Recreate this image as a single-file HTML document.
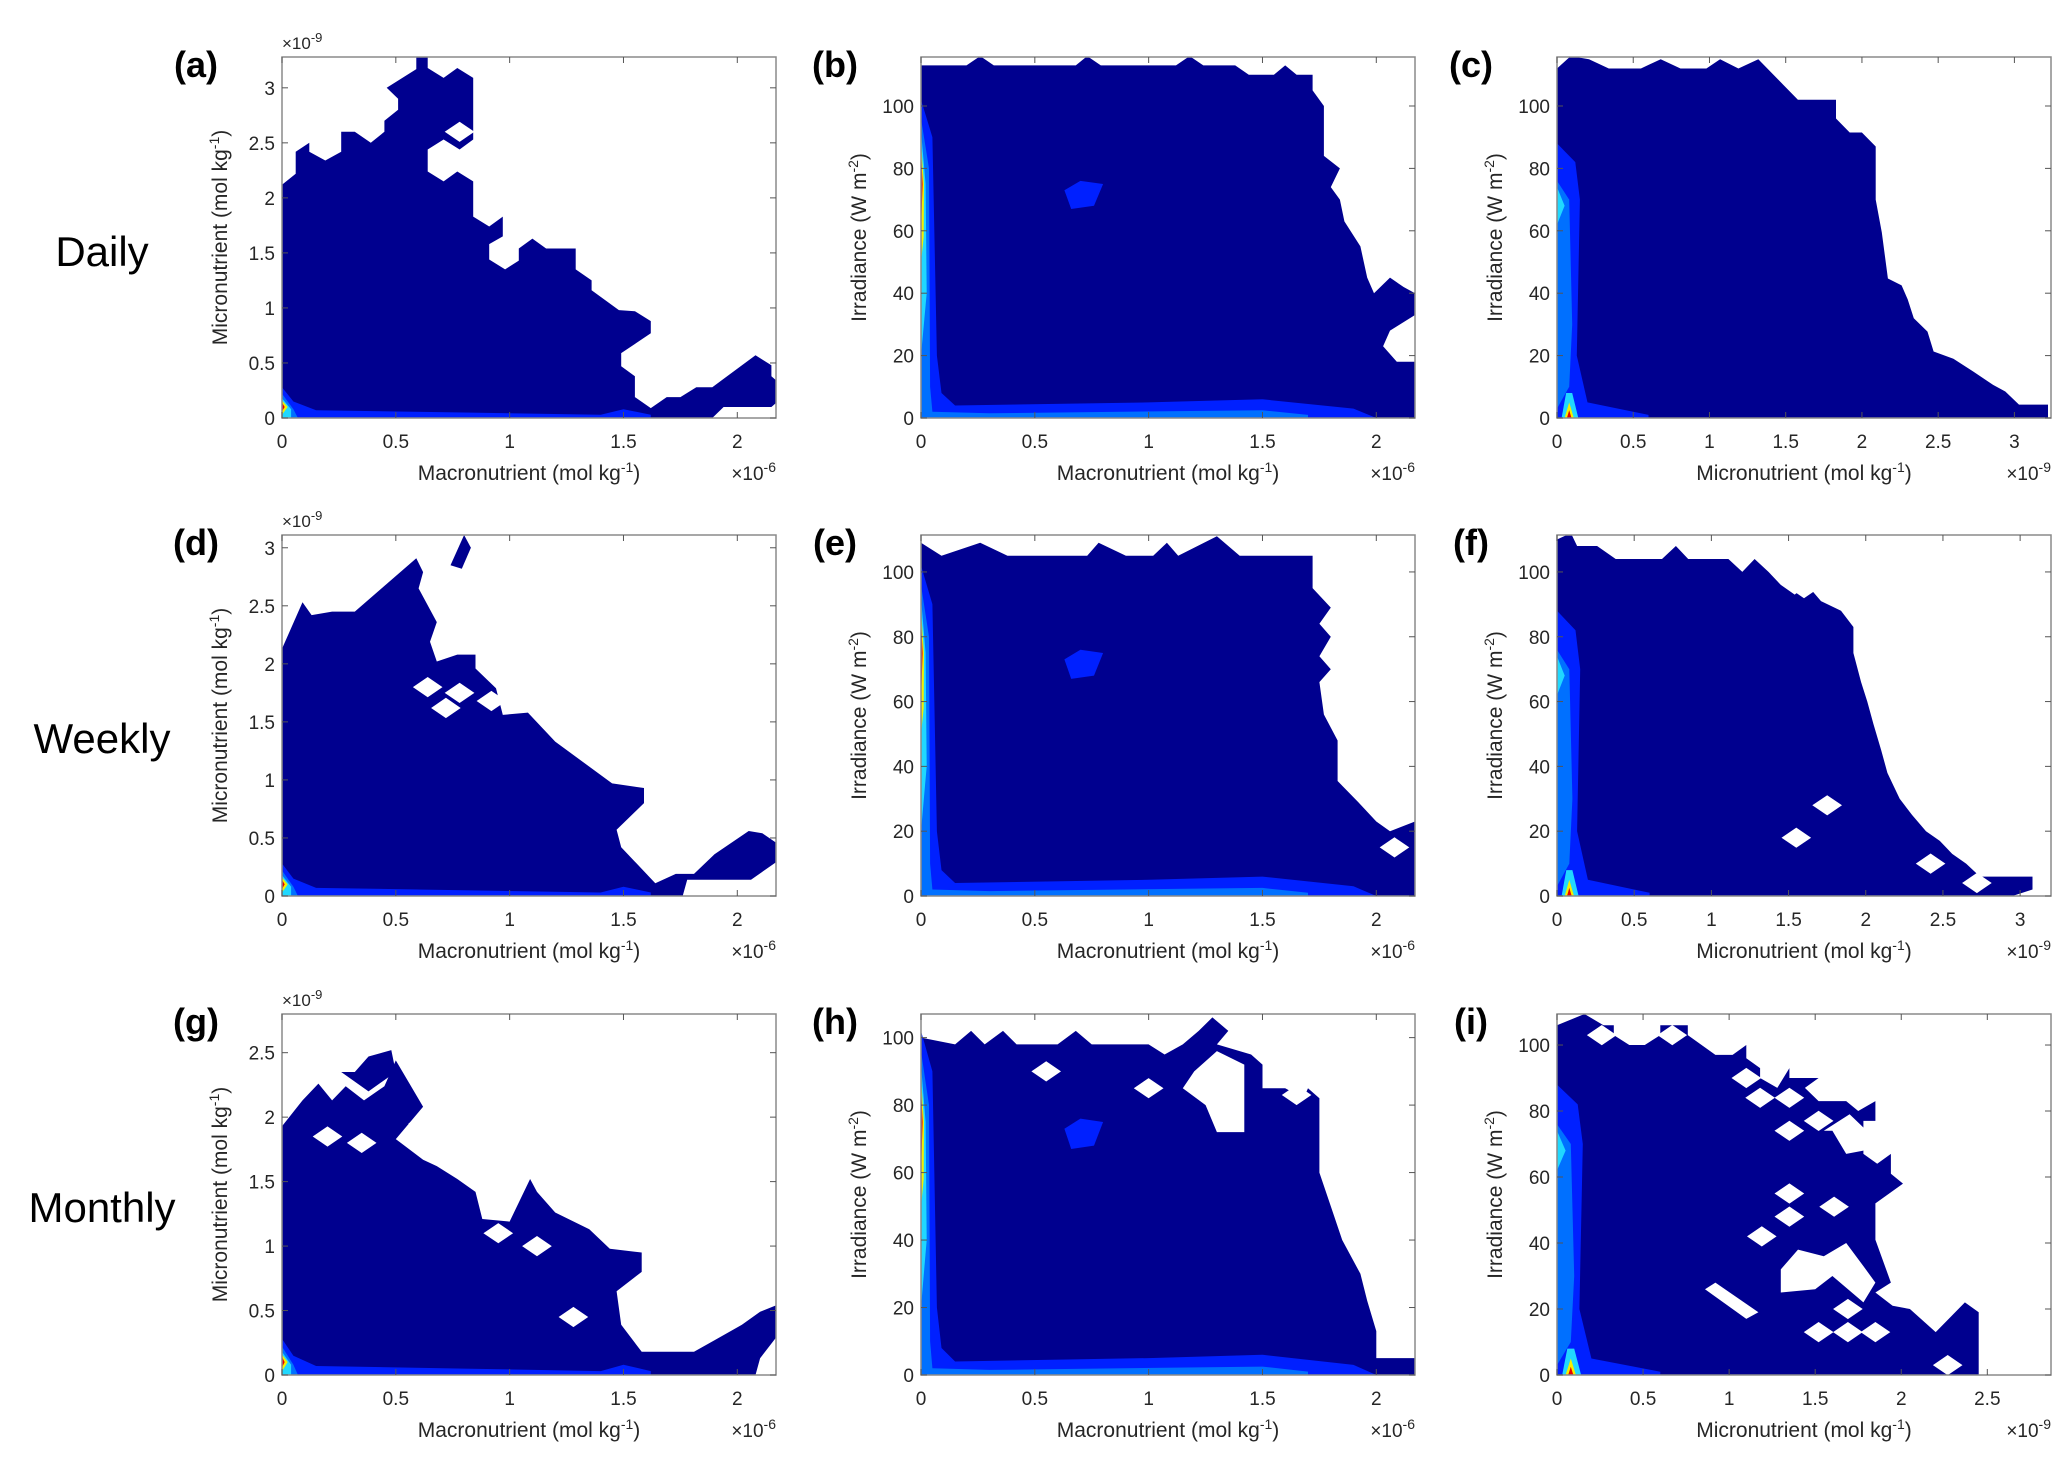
<!DOCTYPE html>
<html><head><meta charset="utf-8">
<style>
html,body{margin:0;padding:0;background:#fff;}
svg{display:block;font-family:"Liberation Sans",sans-serif;}
</style></head>
<body>
<svg id="fig" width="2067" height="1457" viewBox="0 0 2067 1457" xmlns="http://www.w3.org/2000/svg">
<rect width="2067" height="1457" fill="#fff"/>
<text x="102" y="266" font-size="42" text-anchor="middle">Daily</text>
<text x="102" y="753" font-size="42" text-anchor="middle">Weekly</text>
<text x="102" y="1222" font-size="42" text-anchor="middle">Monthly</text>
</svg>
<script>
// ---------- data (in axis units: x ×1e-6 or ×1e-9, y ×1e-9 or W m^-2) ----------
const outlineA = [[0,0],[0,2.12],[0.06,2.22],[0.06,2.42],[0.12,2.5],[0.12,2.42],[0.19,2.34],[0.26,2.42],[0.26,2.6],[0.32,2.6],[0.39,2.5],[0.45,2.6],[0.45,2.7],[0.51,2.8],[0.51,2.9],[0.46,3.0],[0.59,3.17],[0.59,3.3],[0.64,3.3],[0.64,3.18],[0.71,3.09],[0.77,3.18],[0.84,3.09],[0.84,2.53],[0.78,2.44],[0.71,2.53],[0.64,2.44],[0.64,2.24],[0.71,2.15],[0.77,2.24],[0.84,2.15],[0.84,1.83],[0.91,1.74],[0.97,1.83],[0.97,1.65],[0.91,1.58],[0.91,1.44],[0.98,1.35],[1.04,1.43],[1.04,1.54],[1.1,1.63],[1.16,1.54],[1.29,1.54],[1.29,1.35],[1.36,1.25],[1.36,1.16],[1.48,0.98],[1.55,0.97],[1.62,0.88],[1.62,0.77],[1.49,0.59],[1.49,0.47],[1.55,0.38],[1.55,0.19],[1.62,0.09],[1.69,0.19],[1.75,0.19],[1.82,0.28],[1.89,0.28],[2.08,0.57],[2.15,0.48],[2.15,0.38],[2.2,0.29],[2.2,0.19],[2.15,0.1],[1.94,0.1],[1.89,0]];
const holesA = [[0.78,2.6]];
const outlineB = [[0,0],[0,113],[0.2,113],[0.26,116],[0.32,113],[0.68,113],[0.73,116],[0.79,113],[1.12,113],[1.18,116],[1.24,113],[1.38,113],[1.44,110],[1.55,110],[1.6,113],[1.65,110],[1.72,110],[1.72,105],[1.77,100],[1.77,84],[1.84,80],[1.8,74],[1.84,70],[1.86,63],[1.93,55],[1.96,45],[1.99,40],[2.06,45],[2.12,42],[2.17,40],[2.17,33],[2.06,28],[2.03,23],[2.09,18],[2.17,18],[2.17,0]];
const holesB = [];
const outlineC = [[0,0],[0,112],[0.09,116],[0.21,115],[0.34,112],[0.55,112],[0.68,115],[0.81,112],[0.98,112],[1.07,115],[1.19,112],[1.32,115],[1.45,108.5],[1.58,102],[1.83,102],[1.83,96],[1.92,91.5],[2.0,91.5],[2.09,87],[2.09,70],[2.13,59.5],[2.17,44.7],[2.26,42.5],[2.3,38],[2.34,32],[2.43,27.7],[2.47,21.3],[2.6,19],[2.73,14.9],[2.86,10.6],[2.94,8.5],[3.03,4.3],[3.22,4.3],[3.22,0]];
const holesC = [];
const outlineD = [[0,0],[0,2.13],[0.09,2.53],[0.13,2.42],[0.22,2.45],[0.32,2.45],[0.59,2.91],[0.62,2.79],[0.6,2.65],[0.68,2.36],[0.65,2.19],[0.68,2.02],[0.77,2.08],[0.85,2.08],[0.85,1.96],[0.94,1.79],[0.97,1.56],[1.08,1.58],[1.2,1.33],[1.45,0.97],[1.59,0.93],[1.59,0.8],[1.47,0.57],[1.49,0.42],[1.64,0.11],[1.73,0.19],[1.81,0.19],[1.9,0.36],[2.05,0.56],[2.11,0.54],[2.17,0.46],[2.17,0.29],[2.06,0.14],[1.78,0.14],[1.76,0]];
const extraD = [[0.74,2.85],[0.8,3.11],[0.83,3.0],[0.79,2.82]];
const holesD = [[0.64,1.8],[0.78,1.75],[0.72,1.62],[0.92,1.68]];
const outlineE = [[0,0],[0,109],[0.09,105],[0.26,109],[0.38,105],[0.73,105],[0.78,109],[0.9,105],[1.02,105],[1.08,109],[1.13,105],[1.3,111],[1.4,105],[1.72,105],[1.72,95],[1.8,89],[1.75,84],[1.8,80],[1.75,74],[1.8,70],[1.75,66],[1.77,56],[1.83,48],[1.83,35.5],[1.92,29],[2.0,23],[2.06,20],[2.17,23],[2.17,0]];
const holesE = [[2.08,15]];
const outlineF = [[0,0],[0,110],[0.09,112],[0.13,108],[0.26,108],[0.38,104],[0.68,104],[0.77,108],[0.85,104],[1.11,104],[1.2,100],[1.28,104],[1.37,100],[1.45,96],[1.54,93],[1.62,96],[1.71,91],[1.84,88],[1.92,83],[1.92,75],[1.97,66],[2.01,60],[2.05,53],[2.1,45],[2.14,38],[2.18,34],[2.22,30],[2.3,25],[2.39,20],[2.48,17],[2.56,13],[2.65,10],[2.74,6],[3.08,6],[3.08,2],[2.95,0]];
const holesF = [[1.6,95],[1.75,28],[1.55,18],[2.42,10],[2.72,4]];
const outlineG = [[0,0],[0,1.93],[0.09,2.13],[0.16,2.26],[0.22,2.13],[0.28,2.24],[0.36,2.13],[0.45,2.24],[0.5,2.44],[0.56,2.26],[0.62,2.08],[0.5,1.83],[0.62,1.67],[0.68,1.62],[0.77,1.52],[0.85,1.42],[0.88,1.21],[1.0,1.19],[1.09,1.52],[1.12,1.42],[1.2,1.26],[1.35,1.13],[1.44,0.98],[1.58,0.95],[1.58,0.8],[1.47,0.65],[1.49,0.39],[1.58,0.18],[1.81,0.18],[1.9,0.27],[2.02,0.39],[2.1,0.49],[2.17,0.54],[2.17,0.29],[2.1,0.13],[2.08,0]];
const extraG = [[0.26,2.35],[0.32,2.35],[0.38,2.47],[0.48,2.52],[0.5,2.35],[0.38,2.2]];
const holesG = [[0.62,1.95],[1.12,1.0],[1.28,0.45],[0.2,1.85],[0.35,1.8],[0.95,1.1]];
const outlineH = [[0,0],[0,100],[0.15,98],[0.22,102],[0.28,98],[0.36,102],[0.42,98],[0.6,98],[0.68,102],[0.75,98],[1.0,98],[1.07,95],[1.15,98],[1.22,102],[1.28,106],[1.35,102],[1.3,98],[1.45,95],[1.5,92],[1.5,85],[1.6,85],[1.68,82],[1.7,85],[1.75,82],[1.75,60],[1.8,50],[1.85,40],[1.93,30],[1.96,22],[2.0,13],[2.0,5],[2.17,5],[2.17,0]];
const whiteH = [[1.2,90],[1.3,96],[1.42,92],[1.42,72],[1.3,72],[1.25,80],[1.15,85]];
const holesH = [[0.55,90],[1.0,85],[1.65,83]];
const outlineI = [[0,0],[0,106],[0.16,109.4],[0.27,106],[0.33,106],[0.33,103],[0.42,100],[0.51,100],[0.6,103],[0.6,106],[0.76,106],[0.76,103],[0.92,97],[1.02,97],[1.1,100],[1.1,96],[1.18,93],[1.18,90],[1.28,87],[1.35,93],[1.35,90],[1.52,90],[1.44,87],[1.52,83],[1.68,83],[1.75,80],[1.85,83],[1.85,77],[1.78,77],[1.78,67],[1.86,64],[1.94,67],[1.94,61],[2.01,58],[1.85,52],[1.85,41],[1.94,28],[1.85,25],[1.95,21],[2.05,20],[2.2,13],[2.37,22],[2.45,19],[2.45,0]];
const whiteI = [[[1.55,74],[1.7,79],[1.8,74],[1.78,68],[1.68,67],[1.6,74]],[[1.4,38],[1.55,36],[1.68,40],[1.78,33],[1.85,28],[1.78,22],[1.6,30],[1.5,26],[1.3,25],[1.3,32]],[[0.86,26],[0.92,28],[1.17,19],[1.1,17]]];
const holesI = [[0.26,103],[0.67,103],[1.1,90],[1.18,84],[1.35,84],[1.35,74],[1.52,77],[1.35,55],[1.35,48],[1.61,51],[1.19,42],[1.69,13],[1.52,13],[1.69,20],[1.85,13],[2.27,3],[2.1,28],[2.05,42]];

// colour-level layers near the origin (level index 1..5)
const layersNut = [
 [1,[[0,0],[0,0.28],[0.05,0.15],[0.15,0.07],[0.8,0.05],[1.4,0.03],[1.5,0.08],[1.62,0.03],[1.62,0]]],
 [2,[[0,0],[0,0.22],[0.05,0.08],[0.07,0]]],
 [3,[[0,0],[0,0.18],[0.04,0.08],[0.04,0]]],
 [4,[[0,0.03],[0,0.16],[0.025,0.1]]],
 [5,[[0,0.06],[0,0.14],[0.012,0.1]]]
];
const layersIrrMac = [
 [1,[[0,0],[0,102],[0.05,90],[0.07,20],[0.09,8],[0.15,4],[1.0,5],[1.5,6],[1.9,3],[2.0,0]]],
 [1,[[0.63,73],[0.7,76],[0.8,75],[0.76,68],[0.66,67]]],
 [2,[[0,0],[0,96],[0.035,80],[0.04,10],[0.05,2],[0.3,1.5],[1.5,2.5],[1.7,1],[1.7,0]]],
 [3,[[0,20],[0,92],[0.02,75],[0.025,40]]],
 [4,[[0,50],[0,88],[0.013,75],[0.012,58]]],
 [5,[[0,60],[0,86],[0.007,75]]]
];
const layersIrrMic = [
 [1,[[0,0],[0,88],[0.12,82],[0.15,70],[0.13,20],[0.2,5],[0.6,1],[0.6,0]]],
 [2,[[0,3],[0,76],[0.08,70],[0.1,30],[0.08,10]]],
 [3,[[0,62],[0.05,68],[0,74]]],
 [3,[[0.03,0],[0.06,8],[0.1,8],[0.14,0]]],
 [4,[[0.05,0],[0.08,5],[0.11,0]]],
 [5,[[0.065,0],[0.08,2.5],[0.095,0]]]
];

// ---------- styles ----------
const NAVY = '#00008f';
const LEVEL_COLORS = ['#00008f','#0020ff','#0070ff','#20d8ff','#f4f000','#e80000'];
const COLS = [282, 921, 1557];
const ROWS = [57, 535, 1014];
const W = 494, H = 361;
const MAC = 'Macronutrient (mol kg', MIC = 'Micronutrient (mol kg';

const panels = [
 {id:'a',c:0,r:0,xmax:2.17,ymax:3.28,xt:[0,0.5,1,1.5,2],yt:[0,0.5,1,1.5,2,2.5,3],xl:MAC,yl:'nut',xe:'-6',ye:'-9',out:outlineA,holes:holesA,extra:[],white:[],layers:layersNut},
 {id:'b',c:1,r:0,xmax:2.17,ymax:115.7,xt:[0,0.5,1,1.5,2],yt:[0,20,40,60,80,100],xl:MAC,yl:'irr',xe:'-6',out:outlineB,holes:holesB,extra:[],white:[],layers:layersIrrMac},
 {id:'c',c:2,r:0,xmax:3.24,ymax:115.7,xt:[0,0.5,1,1.5,2,2.5,3],yt:[0,20,40,60,80,100],xl:MIC,yl:'irr',xe:'-9',out:outlineC,holes:holesC,extra:[],white:[],layers:layersIrrMic},
 {id:'d',c:0,r:1,xmax:2.17,ymax:3.11,xt:[0,0.5,1,1.5,2],yt:[0,0.5,1,1.5,2,2.5,3],xl:MAC,yl:'nut',xe:'-6',ye:'-9',out:outlineD,holes:holesD,extra:[extraD],white:[],layers:layersNut},
 {id:'e',c:1,r:1,xmax:2.17,ymax:111.4,xt:[0,0.5,1,1.5,2],yt:[0,20,40,60,80,100],xl:MAC,yl:'irr',xe:'-6',out:outlineE,holes:holesE,extra:[],white:[],layers:layersIrrMac},
 {id:'f',c:2,r:1,xmax:3.2,ymax:111.4,xt:[0,0.5,1,1.5,2,2.5,3],yt:[0,20,40,60,80,100],xl:MIC,yl:'irr',xe:'-9',out:outlineF,holes:holesF,extra:[],white:[],layers:layersIrrMic},
 {id:'g',c:0,r:2,xmax:2.17,ymax:2.8,xt:[0,0.5,1,1.5,2],yt:[0,0.5,1,1.5,2,2.5],xl:MAC,yl:'nut',xe:'-6',ye:'-9',out:outlineG,holes:holesG,extra:[extraG],white:[],layers:layersNut},
 {id:'h',c:1,r:2,xmax:2.17,ymax:107,xt:[0,0.5,1,1.5,2],yt:[0,20,40,60,80,100],xl:MAC,yl:'irr',xe:'-6',out:outlineH,holes:holesH,extra:[],white:[whiteH],layers:layersIrrMac},
 {id:'i',c:2,r:2,xmax:2.87,ymax:109.4,xt:[0,0.5,1,1.5,2,2.5],yt:[0,20,40,60,80,100],xl:MIC,yl:'irr',xe:'-9',out:outlineI,holes:holesI,extra:[],white:whiteI,layers:layersIrrMic}
];

const NS = 'http://www.w3.org/2000/svg';
const svg = document.getElementById('fig');
function mk(tag, attrs, parent){const e=document.createElementNS(NS,tag);for(const k in attrs)e.setAttribute(k,attrs[k]);(parent||svg).appendChild(e);return e;}

panels.forEach(p=>{
  const L=COLS[p.c], T=ROWS[p.r];
  const sx=v=>L+v/p.xmax*W, sy=v=>T+H-v/p.ymax*H;
  const pts=arr=>arr.map(q=>sx(q[0]).toFixed(1)+','+sy(q[1]).toFixed(1)).join(' ');
  const g=mk('g',{});
  
  
  const clip=mk('clipPath',{id:'clip-'+p.id},g);
  mk('rect',{x:L,y:T,width:W,height:H},clip);
  const plot=mk('g',{'clip-path':'url(#clip-'+p.id+')'},g);
  const fillEl=mk('polygon',{points:pts(p.out),fill:NAVY},plot);
  
  
  p.extra.forEach(e=>{const el=mk('polygon',{points:pts(e),fill:NAVY},plot);
    
    });
  p.layers.forEach(ly=>{const el=mk('polygon',{points:pts(ly[1]),fill:LEVEL_COLORS[ly[0]]},plot);
    
    });
  p.white.forEach(w=>{const el=mk('polygon',{points:pts(w),fill:'#fff'},plot);
    
    });
  const dx=p.xmax*0.03, dy=p.ymax*0.028;
  p.holes.forEach(h=>{const el=mk('polygon',{points:pts([[h[0]-dx,h[1]],[h[0],h[1]+dy],[h[0]+dx,h[1]],[h[0],h[1]-dy]]),fill:'#fff'},plot);
    
    });
  const box=mk('rect',{x:L,y:T,width:W,height:H,fill:'none',stroke:'#8a8a8a','stroke-width':1.5},g);
  
  
  p.xt.forEach(v=>{const x=sx(v);
    mk('line',{x1:x,y1:T+H,x2:x,y2:T+H-6,stroke:'#555'},g);
    mk('line',{x1:x,y1:T,x2:x,y2:T+6,stroke:'#555'},g);
    const t=mk('text',{x:x,y:T+H+30,'font-size':19,'text-anchor':'middle',fill:'#262626'},g);
    t.textContent=String(v);
    
    });
  p.yt.forEach(v=>{const y=sy(v);
    mk('line',{x1:L,y1:y,x2:L+6,y2:y,stroke:'#555'},g);
    mk('line',{x1:L+W,y1:y,x2:L+W-6,y2:y,stroke:'#555'},g);
    const t=mk('text',{x:L-7,y:y+7,'font-size':19,'text-anchor':'end',fill:'#262626'},g);
    t.textContent=String(v);
    
    });
  const xl=mk('text',{x:L+W/2,y:T+H+62,'font-size':21,'text-anchor':'middle',fill:'#262626'},g);
  
  
  xl.appendChild(document.createTextNode(p.xl));
  const s1=mk('tspan',{'baseline-shift':'super','font-size':14},xl); s1.textContent='-1';
  xl.appendChild(document.createTextNode(')'));
  const xe=mk('text',{x:L+W,y:T+H+62,'font-size':19,'text-anchor':'end',fill:'#262626'},g);
  
  
  xe.appendChild(document.createTextNode('×10'));
  const s2=mk('tspan',{'baseline-shift':'super','font-size':14},xe); s2.textContent=p.xe;
  if(p.ye){const ye=mk('text',{x:L,y:T-8,'font-size':17,fill:'#262626'},g);
    
    
    ye.appendChild(document.createTextNode('×10'));
    const s3=mk('tspan',{'baseline-shift':'super','font-size':13},ye); s3.textContent=p.ye;}
  const cx=L-55, cy=T+H/2;
  const yl=mk('text',{x:cx,y:cy,'font-size':21,'text-anchor':'middle',fill:'#262626',transform:'rotate(-90 '+cx+' '+cy+')'},g);
  
  
  if(p.yl==='nut'){yl.appendChild(document.createTextNode('Micronutrient (mol kg'));
    const s=mk('tspan',{'baseline-shift':'super','font-size':14},yl); s.textContent='-1';}
  else{yl.appendChild(document.createTextNode('Irradiance (W m'));
    const s=mk('tspan',{'baseline-shift':'super','font-size':14},yl); s.textContent='-2';}
  yl.appendChild(document.createTextNode(')'));
  const pl=mk('text',{x:L-86,y:T+20,'font-size':36,'font-weight':'bold','text-anchor':'middle',fill:'#000'},g);
  pl.textContent='('+p.id+')';
  
  
});
</script>
</body></html>
